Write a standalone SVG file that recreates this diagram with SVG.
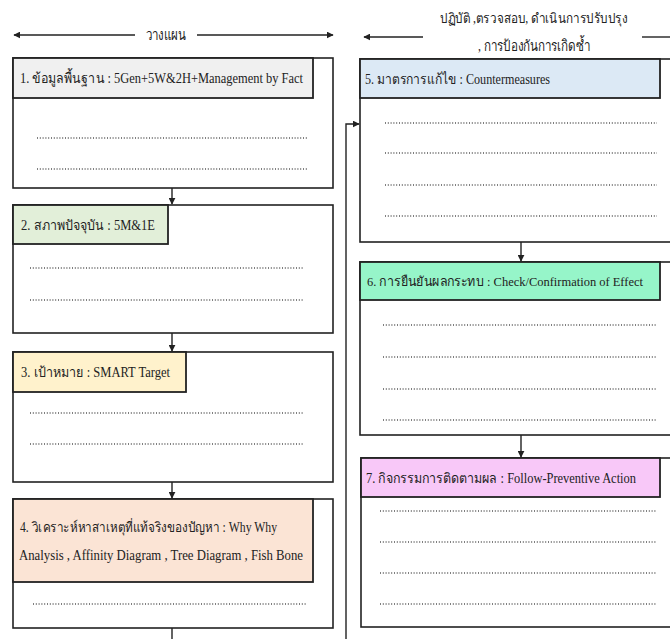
<svg xmlns="http://www.w3.org/2000/svg" width="670" height="639" viewBox="0 0 670 639">
<style>
.bg{fill:#fff}
.outer{fill:#fff;stroke:#222;stroke-width:1.6}
.hdr{stroke:#222;stroke-width:1.8}
.t{font-family:"Liberation Serif","DejaVu Serif",serif;font-size:14px;fill:#222}
.h{font-family:"Liberation Serif","DejaVu Serif",serif;font-size:15px;fill:#222}
.dot{stroke:#555;stroke-width:1.3;stroke-dasharray:1 1.8}
.con{stroke:#222;stroke-width:1.4;fill:none}
</style>
<defs>
<marker id="ah" viewBox="0 0 10 10" refX="9" refY="5" markerWidth="5" markerHeight="5" orient="auto-start-reverse">
<path d="M0,0 L10,5 L0,10 z" fill="#222"/>
</marker>
</defs>
<rect class="bg" x="0" y="0" width="670" height="639"/>

<g id="phase-plan">
<line class="con" x1="135" y1="35" x2="14" y2="35" marker-end="url(#ah)"/>
<line class="con" x1="197" y1="35" x2="333" y2="35" marker-end="url(#ah)"/>
<text class="h" x="166" y="40" text-anchor="middle" textLength="40" lengthAdjust="spacingAndGlyphs">วางแผน</text>
</g>

<g id="phase-do">
<line class="con" x1="423" y1="37" x2="364" y2="37" marker-end="url(#ah)"/>
<line class="con" x1="642" y1="37" x2="672" y2="37"/>
<text class="h" x="534" y="23" text-anchor="middle" style="font-size:14px" textLength="188" lengthAdjust="spacingAndGlyphs">ปฏิบัติ ,ตรวจสอบ, ดำเนินการปรับปรุง</text>
<text class="h" x="534" y="51" text-anchor="middle" textLength="112" lengthAdjust="spacingAndGlyphs">, การป้องกันการเกิดซ้ำ</text>
</g>

<g id="node1">
<rect class="outer" x="13" y="58" width="320" height="130"/>
<rect class="hdr" x="13" y="58" width="300" height="40" fill="#f0f0f0"/>
<text class="t" x="20" y="83" textLength="283" lengthAdjust="spacingAndGlyphs">1. ข้อมูลพื้นฐาน : 5Gen+5W&amp;2H+Management by Fact</text>
<line class="dot" x1="37" y1="138" x2="308" y2="138"/>
<line class="dot" x1="37" y1="169" x2="308" y2="169"/>
</g>

<g id="node2">
<rect class="outer" x="13" y="205" width="320" height="128"/>
<rect class="hdr" x="13" y="205" width="155" height="39" fill="#e2efd9"/>
<text class="t" x="21" y="230" textLength="134" lengthAdjust="spacingAndGlyphs">2. สภาพปัจจุบัน : 5M&amp;1E</text>
<line class="dot" x1="30" y1="268" x2="303" y2="268"/>
<line class="dot" x1="30" y1="300" x2="303" y2="300"/>
</g>

<g id="node3">
<rect class="outer" x="13" y="352" width="320" height="130"/>
<rect class="hdr" x="13" y="352" width="173" height="40" fill="#fff2cc"/>
<text class="t" x="21" y="377" textLength="149" lengthAdjust="spacingAndGlyphs">3. เป้าหมาย : SMART Target</text>
<line class="dot" x1="30" y1="413" x2="303" y2="413"/>
<line class="dot" x1="30" y1="444" x2="303" y2="444"/>
</g>

<g id="node4">
<rect class="outer" x="13" y="499" width="320" height="129"/>
<rect class="hdr" x="13" y="499" width="300" height="83" fill="#fbe4d5"/>
<text class="t" x="20" y="532" textLength="257" lengthAdjust="spacingAndGlyphs">4. วิเคราะห์หาสาเหตุที่แท้จริงของปัญหา : Why Why</text>
<text class="t" x="19" y="560" textLength="284" lengthAdjust="spacingAndGlyphs">Analysis , Affinity Diagram , Tree Diagram , Fish Bone</text>
<line class="dot" x1="33" y1="604" x2="306" y2="604"/>
</g>

<g id="node5">
<rect class="outer" x="360" y="59" width="330" height="183"/>
<rect class="hdr" x="360" y="59" width="300" height="39" fill="#dce9f5"/>
<text class="t" x="365" y="84" textLength="185" lengthAdjust="spacingAndGlyphs">5. มาตรการแก้ไข : Countermeasures</text>
<line class="dot" x1="385" y1="123" x2="657" y2="123"/>
<line class="dot" x1="385" y1="153" x2="657" y2="153"/>
<line class="dot" x1="385" y1="185" x2="657" y2="185"/>
<line class="dot" x1="385" y1="216" x2="657" y2="216"/>
</g>

<g id="node6">
<rect class="outer" x="360" y="262" width="330" height="173"/>
<rect class="hdr" x="360" y="262" width="300" height="38" fill="#96f5c9"/>
<text class="t" x="367" y="286" style="font-size:13.5px" textLength="276" lengthAdjust="spacingAndGlyphs">6. การยืนยันผลกระทบ : Check/Confirmation of Effect</text>
<line class="dot" x1="383" y1="325" x2="657" y2="325"/>
<line class="dot" x1="383" y1="357" x2="657" y2="357"/>
<line class="dot" x1="383" y1="389" x2="657" y2="389"/>
<line class="dot" x1="383" y1="420" x2="657" y2="420"/>
</g>

<g id="node7">
<rect class="outer" x="361" y="458" width="330" height="169"/>
<rect class="hdr" x="361" y="458" width="299" height="39" fill="#f8c8f8"/>
<text class="t" x="366" y="483" textLength="270" lengthAdjust="spacingAndGlyphs">7. กิจกรรมการติดตามผล : Follow-Preventive Action</text>
<line class="dot" x1="380" y1="511" x2="657" y2="511"/>
<line class="dot" x1="380" y1="542" x2="657" y2="542"/>
<line class="dot" x1="380" y1="573" x2="657" y2="573"/>
<line class="dot" x1="380" y1="604" x2="657" y2="604"/>
</g>

<g id="connectors">
<line class="con" x1="172" y1="188" x2="172" y2="204" marker-end="url(#ah)"/>
<line class="con" x1="172" y1="333" x2="172" y2="351" marker-end="url(#ah)"/>
<line class="con" x1="172" y1="482" x2="172" y2="498" marker-end="url(#ah)"/>
<line class="con" x1="172" y1="628" x2="172" y2="640"/>
<polyline class="con" points="346,640 346,124 359,124" marker-end="url(#ah)"/>
<line class="con" x1="521" y1="242" x2="521" y2="261" marker-end="url(#ah)"/>
<line class="con" x1="521" y1="435" x2="521" y2="457" marker-end="url(#ah)"/>
</g>
</svg>
